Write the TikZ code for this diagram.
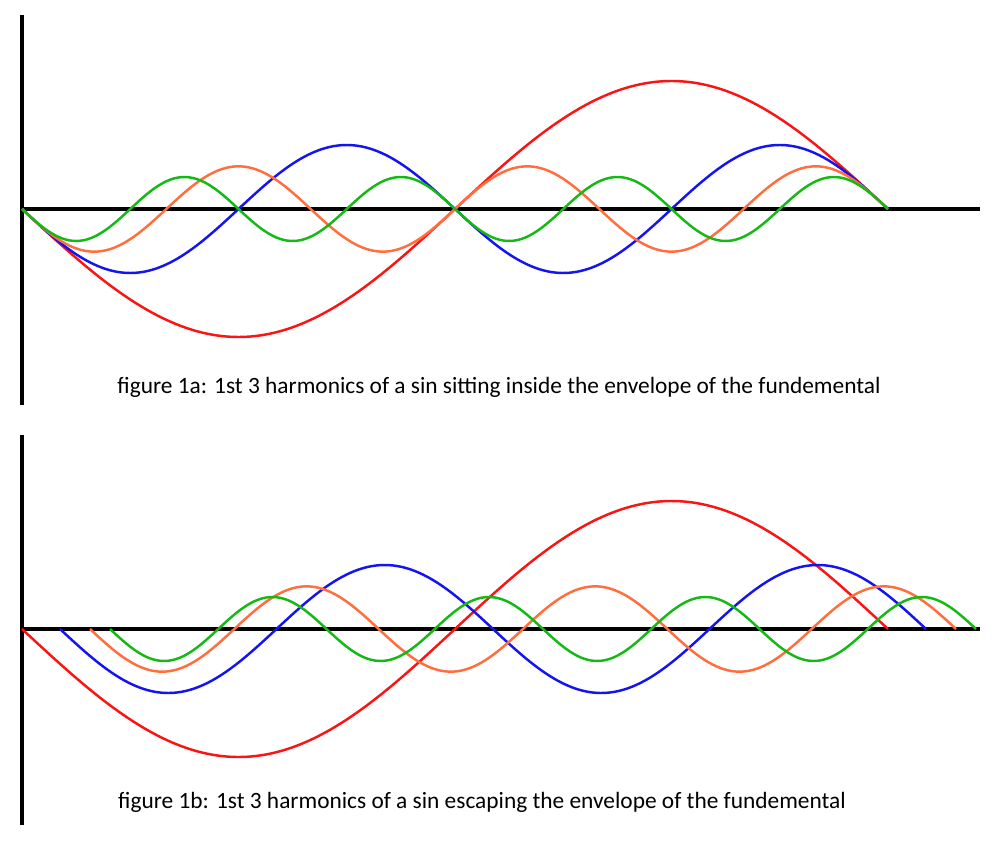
\documentclass[tikz,border=0pt]{standalone}
\usepackage{fontspec}
\setmainfont{Carlito}
\definecolor{fundRed}{RGB}{250,20,20}
\definecolor{harmBlue}{RGB}{20,20,240}
\definecolor{harmOrange}{RGB}{255,110,60}
\definecolor{harmGreen}{RGB}{20,185,20}
\begin{document}
\begin{tikzpicture}[x=0.02cm, y=-0.02cm,
    axisStyle/.style={line width=2.3pt, black},
    waveStyle/.style={line width=1.4pt, smooth},
    captionStyle/.style={font=\fontsize{13.3}{15}\selectfont}]
  \useasboundingbox (0,0) rectangle (1000,851);
  % figure 1a
  \draw[axisStyle] (22,15) -- (22,405);
  \draw[axisStyle] (20,209) -- (980,209);
  \foreach \n/\col in {1/fundRed, 2/harmBlue, 3/harmOrange, 4/harmGreen}
    \draw[waveStyle, \col] plot[domain=0:866, samples=240]
      ({22+\x}, {209+128/\n*sin(\n*\x/866*360)});
  \node[captionStyle] (capA) at (499,387) {figure 1a: 1st 3 harmonics of a sin sitting inside the envelope of the fundemental};
  % figure 1b
  \draw[axisStyle] (22,435) -- (22,825);
  \draw[axisStyle] (20,629) -- (980,629);
  \foreach \n/\col/\sh in {1/fundRed/22, 2/harmBlue/60, 3/harmOrange/90, 4/harmGreen/110}
    \draw[waveStyle, \col] plot[domain=0:866, samples=240]
      ({\sh+\x}, {629+128/\n*sin(\n*\x/866*360)});
  \node[captionStyle] (capB) at (482,802) {figure 1b: 1st 3 harmonics of a sin escaping the envelope of the fundemental};
\end{tikzpicture}
\end{document}
